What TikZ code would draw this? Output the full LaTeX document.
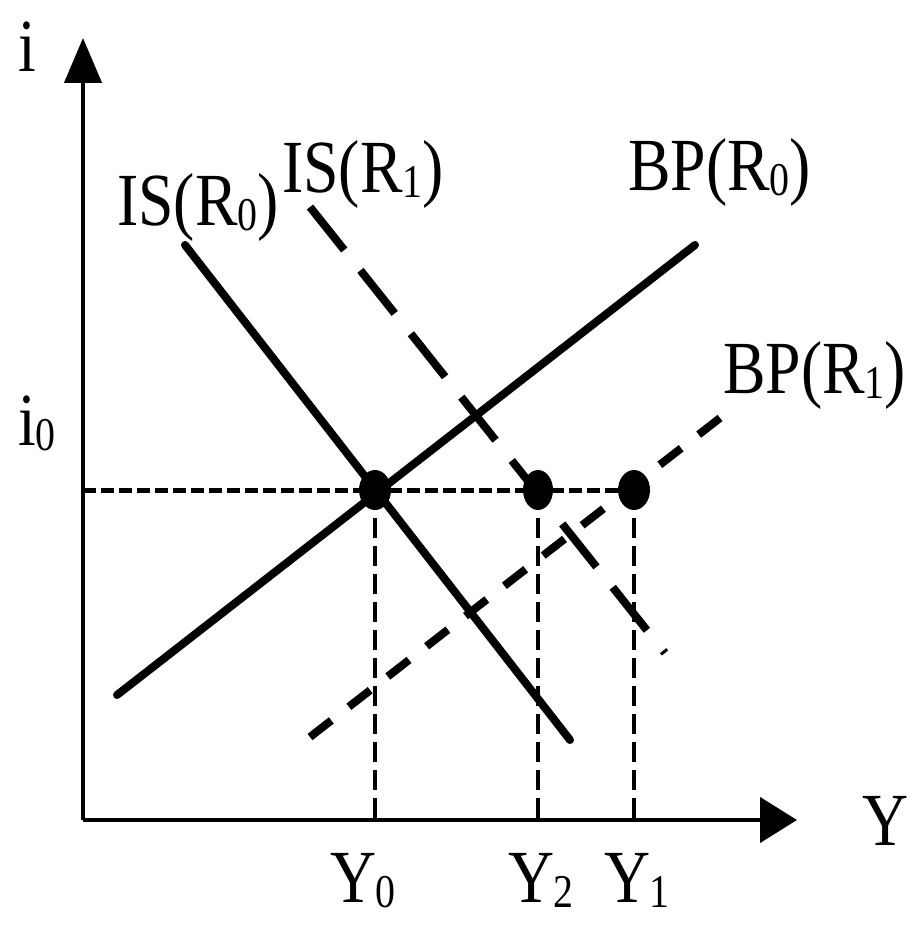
\documentclass[tikz,border=0pt]{standalone}
\usepackage{fontspec}
\setmainfont{Liberation Serif}[FakeStretch=0.85]
\usetikzlibrary{arrows.meta}
\newcommand{\lowidx}[1]{{\fontsize{47}{50}\selectfont\raisebox{-5pt}{#1}}}
\tikzset{
  lbl/.style={inner sep=0pt, anchor=base west, font=\fontsize{75}{80}\selectfont},
  axisline/.style={line width=4.5pt},
  solidcurve/.style={line width=8pt, line cap=round},
  isdash/.style={line width=8pt, dash pattern=on 55pt off 26pt},
  bpdash/.style={line width=8pt, dash pattern=on 27pt off 22.25pt},
  hdash/.style={line width=5pt, dash pattern=on 13pt off 5pt},
  vdash/.style={line width=4pt, dash pattern=on 20pt off 8pt},
  eqdot/.style={fill=black}
}
\begin{document}
\begin{tikzpicture}[x=1pt,y=-1pt]
\useasboundingbox (0,0) rectangle (910,936);
% axes
\coordinate (O) at (83,820);
\coordinate (ytip) at (83,38);
\coordinate (xtip) at (797,820);
\draw[axisline, -{Triangle[length=45pt,width=37pt]}] (O) -- (ytip);
\draw[axisline, -{Triangle[length=37pt,width=45pt]}] (O) -- (xtip);
% key points
\coordinate (E0) at (375,490);
\coordinate (E2) at (538,490);
\coordinate (E1) at (634,490);
\coordinate (iax) at (83,490);
\coordinate (Y0ax) at (375,820);
\coordinate (Y2ax) at (538,820);
\coordinate (Y1ax) at (634,820);
% curve end points
\coordinate (isa) at (185,245);
\coordinate (isb) at (570,740);
\coordinate (isc) at (310,207);
\coordinate (isd) at (665,653);
\coordinate (bpa) at (117,695);
\coordinate (bpb) at (695,245);
\coordinate (bpc) at (310,737);
\coordinate (bpd) at (720,418);
% guide lines
\draw[hdash] (iax) -- (E1);
\draw[vdash] (E0) -- (Y0ax);
\draw[vdash] (E2) -- (Y2ax);
\draw[vdash] (E1) -- (Y1ax);
% curves
\draw[solidcurve] (isa) -- (isb);
\draw[solidcurve] (bpa) -- (bpb);
\draw[isdash] (isc) -- (isd);
\draw[bpdash] (bpc) -- (bpd);
% dots
\fill[eqdot] (E0) ellipse [x radius=16pt, y radius=20pt];
\fill[eqdot] (E2) ellipse [x radius=15pt, y radius=20pt];
\fill[eqdot] (E1) ellipse [x radius=16pt, y radius=20pt];
% labels
\node[lbl] (li) at (18,72) {i};
\node[lbl] (li0) at (18,445) {i\lowidx{0}};
\node[lbl] (lY) at (862,845) {Y};
\node[lbl] (lY0) at (330,902) {Y\kern-1pt\lowidx{0}};
\node[lbl] (lY2) at (508,902) {Y\kern-1pt\lowidx{2}};
\node[lbl] (lY1) at (604,902) {Y\kern-1pt\lowidx{1}};
\node[lbl] (lis0) at (117,225) {IS(R\lowidx{0})};
\node[lbl] (lis1) at (282,193) {IS(R\lowidx{1})};
\node[lbl] (lbp0) at (628,190) {BP(R\lowidx{0})};
\node[lbl] (lbp1) at (723,393) {BP(R\lowidx{1})};
\end{tikzpicture}
\end{document}
